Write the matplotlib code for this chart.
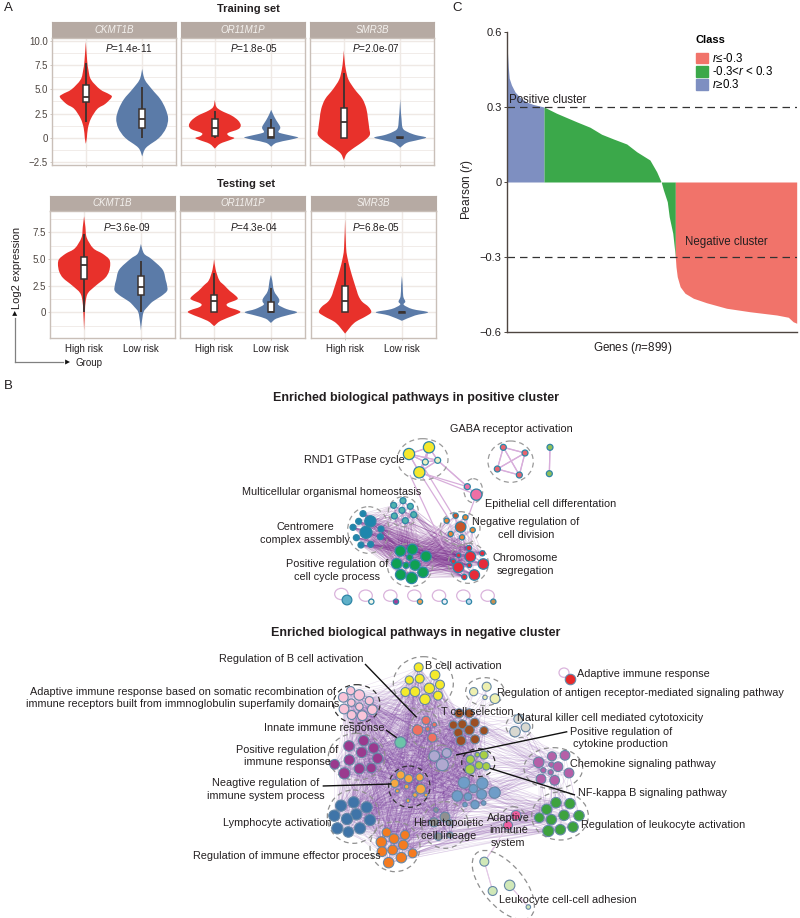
import numpy as np
import matplotlib
matplotlib.use("Agg")
import matplotlib.pyplot as plt
from matplotlib.path import Path
from matplotlib.patches import PathPatch, Ellipse, Patch
from matplotlib.collections import LineCollection

plt.rcParams['font.family'] = ['Liberation Sans', 'DejaVu Sans']
plt.rcParams['mathtext.fontset'] = 'custom'
plt.rcParams['mathtext.rm'] = 'Liberation Sans'
plt.rcParams['mathtext.it'] = 'Liberation Sans:italic'
plt.rcParams['mathtext.bf'] = 'Liberation Sans:bold'
plt.rcParams['axes.unicode_minus'] = True

W, H = 800, 918

# ---------- Panel A data: (y, relative half-width) density outlines and box stats ----------
genes = ['CKMT1B', 'OR11M1P', 'SMR3B']
groups = ['High risk', 'Low risk']
train_p = ['1.4e-11', '1.8e-05', '2.0e-07']
test_p = ['3.6e-09', '4.3e-04', '6.8e-05']

train_ck_hi_y = [9.9, 8, 7, 6, 5, 4.5, 4.2, 3.5, 3, 2, 1, 0, -0.6]
train_ck_hi_w = [0, .05, .1, .2, .55, .9, 1, .75, .45, .2, .08, .04, 0]
train_ck_lo_y = [7.1, 6, 5, 4, 3, 2, 1, 0, -1, -1.9]
train_ck_lo_w = [0, .1, .38, .7, .9, 1, .92, .65, .15, 0]
train_or_hi_y = [3.9, 3.2, 2.8, 2.3, 1.8, 1.3, .9, .5, .2, 0, -.2, -.6, -1.1]
train_or_hi_w = [0, .06, .25, .65, .9, 1, .9, .5, .55, .75, .6, .2, 0]
train_or_lo_y = [2.9, 2.4, 1.8, 1.3, 1, .6, .4, .1, 0, -.2, -.5, -.9]
train_or_lo_w = [0, .08, .2, .32, .35, .28, .5, 1, 1, .7, .2, 0]
train_sm_hi_y = [9, 8, 7, 6, 5, 4, 3, 2, 1, .3, -.3, -1, -1.6, -2.3]
train_sm_hi_w = [0, .03, .08, .18, .42, .72, .87, .93, .98, 1, .78, .4, .12, 0]
train_sm_lo_y = [4, 3, 2, 1, .6, .3, .05, -.2, -.5, -1]
train_sm_lo_w = [0, .02, .05, .1, .3, .6, 1, .7, .25, 0]

test_ck_hi_y = [9, 8, 7, 6, 5.5, 5, 4.5, 3.8, 3.2, 2.5, 1.8, 1, 0, -1.7]
test_ck_hi_w = [0, .05, .1, .35, .7, .95, 1, .95, .8, .45, .15, .06, .03, 0]
test_ck_lo_y = [6.4, 5.5, 5, 4, 3, 2.5, 2, 1.5, 1, .5, 0, -1, -1.7]
test_ck_lo_w = [0, .12, .4, .83, .95, 1, 1, .77, .45, .25, .1, .03, 0]
test_or_hi_y = [5, 4, 3, 2.5, 2, 1.5, 1.2, .8, .5, .2, 0, -.3, -.8, -1.3]
test_or_hi_w = [0, .06, .2, .4, .6, .85, .88, .5, .55, .9, 1, .75, .25, 0]
test_or_lo_y = [3.5, 3, 2, 1.3, 1, .7, .3, 0, -.3, -.6, -1]
test_or_lo_w = [0, .05, .12, .3, .32, .28, .6, 1, .6, .2, 0]
test_sm_hi_y = [8.7, 6, 5, 4, 3, 2, 1.5, 1, .5, 0, -.4, -1, -2]
test_sm_hi_w = [0, .04, .1, .2, .32, .45, .52, .65, .9, 1, .78, .35, 0]
test_sm_lo_y = [3.4, 2.5, 1.5, 1, .7, .3, 0, -.3, -.8]
test_sm_lo_w = [0, .03, .05, .13, .07, .4, 1, .5, 0]

# whisker low, q1, median, q3, whisker high
train_boxes = [[(1.6, 3.7, 4.2, 5.4, 7.7), (0, 1, 2, 3, 5.2)],
               [(0, .2, 1.05, 2, 2.8), (0, 0, .1, 1, 2)],
               [(0, 0, 1.6, 3.1, 6.7), (0, -.05, 0, .05, 0)]]
test_boxes = [[(0, 3.15, 4.4, 5.2, 7.3), (0, 1.6, 2.4, 3.4, 4.8)],
              [(0, 0, 1.05, 1.6, 3.7), (0, 0, .05, 1, 2.3)],
              [(0, 0, 1.05, 2.5, 4.6), (0, -.05, 0, .05, 0)]]
train_viol = [[(train_ck_hi_y, train_ck_hi_w), (train_ck_lo_y, train_ck_lo_w)],
              [(train_or_hi_y, train_or_hi_w), (train_or_lo_y, train_or_lo_w)],
              [(train_sm_hi_y, train_sm_hi_w), (train_sm_lo_y, train_sm_lo_w)]]
test_viol = [[(test_ck_hi_y, test_ck_hi_w), (test_ck_lo_y, test_ck_lo_w)],
             [(test_or_hi_y, test_or_hi_w), (test_or_lo_y, test_or_lo_w)],
             [(test_sm_hi_y, test_sm_hi_w), (test_sm_lo_y, test_sm_lo_w)]]

# ---------- Panel C data ----------
rank_pos = [0, 3, 6, 13, 24, 39, 60, 81, 114]
r_pos = [.53, .46, .415, .388, .36, .339, .32, .31, .30]
rank_mid = [114, 153, 215, 257, 293, 330, 371, 402, 443, 464, 478, 485, 497, 503, 514, 520, 522]
r_mid = [.30, .275, .241, .219, .191, .172, .152, .121, .088, .041, 0, -.032, -.079, -.139, -.205, -.275, -.305]
rank_neg = [522, 524, 528, 537, 552, 578, 619, 681, 754, 837, 873, 888, 899]
r_neg = [-.30, -.339, -.379, -.419, -.445, -.465, -.483, -.505, -.519, -.532, -.541, -.559, -.565]

# ---------- Panel B data: node (x, y, radius) and cluster ellipses, in network layout units ----------
P_YELLOW = [(537, 162, 15), (597, 142, 15), (568, 217, 15)]
P_YELLOW2 = [(586, 186, 8), (623, 181, 8)]
P_GABA = [(820, 142, 8), (885, 159, 8), (802, 207, 8), (868, 225, 8)]
P_PAIR = [(960, 142, 8), (958, 221, 8)]
P_EPI = [(712, 260, 8), (739, 284, 15)]
P_MULTI = [(491, 316, 8), (519, 302, 8), (516, 331, 8), (541, 319, 8), (493, 348, 8), (551, 344, 8), (526, 362, 8)]
P_CENT = [(421, 364, 15), (408, 397, 16), (399, 341, 8), (386, 364, 8), (369, 382, 8), (453, 387, 8),
          (379, 413, 8), (451, 410, 8), (393, 435, 8), (422, 433, 8)]
P_DIV1 = [(692, 381, 14), (677, 347, 7)]
P_DIV2 = [(650, 362, 7), (706, 352, 7), (728, 390, 7), (662, 402, 7), (696, 412, 7)]
P_CHR = [(721, 470, 14), (760, 492, 14), (685, 502, 14), (733, 525, 14), (717, 444, 7), (686, 466, 6),
         (757, 460, 7), (670, 484, 6), (718, 496, 6), (703, 531, 7)]
P_GRN = [(511, 453, 14), (547, 448, 14), (588, 469, 14), (500, 491, 14), (555, 495, 14), (512, 524, 14),
         (545, 534, 15), (579, 517, 14), (539, 472, 8), (528, 496, 8)]
P_SINGLE = [(351, 600, 13), (424, 605, 7), (498, 605, 7), (570, 605, 7), (644, 605, 7), (717, 605, 7), (790, 605, 7)]
P_SINGLE_C = ['#5fb0c8', '#f0f6ea', '#a04098', '#f0a050', '#f0f0f8', '#bcd8ee', '#c89050']
P_CLUSTERS = [(P_YELLOW, '#f5e72c'), (P_YELLOW2, '#e8f0c0'), (P_GABA, '#e8636f'), (P_PAIR, '#8fbf5a'),
              (P_EPI, '#ee6fa5'), (P_MULTI, '#4fb3ad'), (P_CENT, '#1f86ad'), (P_DIV1, '#c9552b'),
              (P_DIV2, '#e98433'), (P_CHR, '#e62b3a'), (P_GRN, '#0fa052')]
P_RINGS = [(578, 178, 76, 62), (842, 185, 68, 62), (730, 272, 28, 36), (415, 390, 62, 70),
           (520, 335, 45, 45), (690, 385, 60, 50), (715, 490, 60, 60), (540, 495, 68, 65)]
P_LABELS = [('GABA receptor activation', 660, 88, 'left'), ('RND1 GTPase cycle', 222, 181, 'left'),
            ('Multicellular organismal homeostasis', 35, 276, 'left'),
            ('Epithelial cell differentation', 765, 312, 'left'),
            ('Centromere\ncomplex assembly', 225, 401, 'center'),
            ('Negative regulation of\ncell division', 888, 385, 'center'),
            ('Positive regulation of\ncell cycle process', 320, 511, 'center'),
            ('Chromosome\nsegregation', 885, 493, 'center')]

N_PINK = [(-88, 152, 11), (-110, 172, 13), (-62, 165, 14), (-32, 182, 11), (-86, 188, 10), (-108, 207, 13),
          (-62, 200, 10), (-23, 209, 13), (-85, 225, 12), (-53, 227, 13)]
N_PURP = [(-93, 318, 14), (-49, 302, 14), (-19, 324, 14), (-55, 337, 14), (-7, 355, 14), (-92, 360, 14),
          (-136, 373, 13), (-62, 386, 14), (-26, 384, 13), (-107, 400, 15)]
N_LYMPH = [(-117, 497, 15), (-79, 487, 15), (-40, 502, 15), (-137, 527, 15), (-71, 523, 15), (-99, 537, 15),
           (-30, 540, 15), (-128, 565, 15), (-95, 576, 14), (-60, 565, 15)]
N_ORNG = [(20, 577, 12), (42, 596, 13), (75, 585, 12), (4, 606, 14), (70, 615, 13), (38, 630, 13),
          (98, 640, 12), (6, 635, 13), (64, 653, 14), (26, 668, 14)]
N_YELL = [(116, 82, 12), (165, 105, 13), (88, 120, 11), (119, 116, 12), (180, 134, 12), (76, 156, 12),
          (105, 155, 13), (148, 145, 14), (174, 167, 12), (135, 178, 14)]
N_ANTI = [(281, 155, 11), (320, 140, 12), (315, 172, 6), (345, 176, 13)]
N_BROWN = [(237, 220, 12), (268, 220, 12), (220, 255, 11), (247, 253, 12), (284, 248, 12), (235, 278, 12),
           (268, 270, 13), (312, 272, 11), (243, 302, 13), (285, 298, 12)]
N_NK = [(415, 237, 12), (405, 275, 14), (437, 262, 12)]
N_SALM = [(138, 241, 11), (113, 270, 14), (143, 267, 6), (163, 254, 6), (157, 293, 12)]
N_INNATE = [(61, 306, 15)]
N_LAV = [(163, 348, 14), (200, 339, 12), (187, 374, 16)]
N_LIME = [(271, 358, 11), (292, 344, 6), (312, 345, 11), (297, 376, 10), (270, 388, 13), (319, 379, 10)]
N_CHEMO = [(516, 349, 12), (555, 346, 13), (476, 367, 14), (514, 374, 7), (534, 380, 13), (490, 391, 7),
           (512, 397, 7), (567, 399, 13), (483, 417, 13), (524, 421, 13)]
N_LORG = [(62, 405, 11), (86, 416, 11), (119, 412, 10), (44, 430, 11), (80, 440, 6), (122, 447, 13),
          (52, 453, 5), (105, 465, 6), (138, 465, 5), (84, 482, 5)]
N_LBLUE = [(252, 428, 15), (307, 430, 15), (280, 446, 11), (344, 458, 15), (232, 468, 14), (264, 470, 10),
           (305, 463, 13), (285, 494, 11), (255, 494, 6), (311, 489, 6)]
N_GREY = [(168, 510, 6), (195, 531, 13), (162, 547, 12), (210, 548, 8), (175, 590, 10), (210, 585, 8)]
N_MAG = [(408, 526, 13), (384, 556, 12)]
N_GRN = [(528, 488, 14), (570, 491, 14), (500, 508, 14), (552, 526, 14), (478, 533, 13), (597, 527, 14),
         (514, 539, 14), (505, 573, 15), (541, 569, 14), (579, 561, 14)]
N_ADH = [(313, 665, 12), (389, 736, 14), (338, 753, 12), (445, 801, 6)]
N_RED = [(570, 116, 14)]
N_CLUSTERS = [(N_PINK, '#f9c4d8'), (N_PURP, '#9a3a8e'), (N_LYMPH, '#3f74a8'), (N_ORNG, '#f47b20'),
              (N_YELL, '#f4ea2a'), (N_ANTI, '#eef0b0'), (N_BROWN, '#9c4f23'), (N_NK, '#d8d8d0'),
              (N_SALM, '#ee7060'), (N_INNATE, '#6cc4a8'), (N_LAV, '#b0a8d0'), (N_LIME, '#a8cf45'),
              (N_CHEMO, '#b560a8'), (N_LORG, '#f6a840'), (N_LBLUE, '#6f9dc8'), (N_GREY, '#909090'),
              (N_MAG, '#ee5fa0'), (N_GRN, '#3ea23e'), (N_ADH, '#d0e8b8'), (N_RED, '#e82a2a')]
N_RINGS_GREY = [(-70, 350, 85, 70, 0), (-80, 530, 78, 80, 0), (45, 620, 75, 75, 0), (130, 130, 90, 80, 0),
                (315, 155, 58, 42, 0), (418, 258, 40, 35, 0), (135, 268, 45, 55, 0), (185, 355, 40, 40, 0),
                (520, 385, 88, 62, 0), (195, 555, 70, 70, 0), (400, 540, 38, 40, 0), (540, 528, 85, 72, 0),
                (370, 735, 125, 62, 50)]
N_RINGS_DARK = [(-70, 192, 70, 58, 0), (295, 368, 50, 42, 0), (88, 440, 62, 62, 0)]
N_LEADERS = [((-45, 72), (110, 232)), ((18, 270), (50, 293)), ((-172, 438), (35, 432)),
             ((562, 275), (228, 345)), ((585, 465), (330, 385))]
N_LABELS = [('Regulation of B cell activation', -482, 56, 'left'),
            ('Adaptive immune response based on somatic recombination of\nimmune receptors built from immnoglobulin superfamily domains', -591, 174, 'center'),
            ('Innate immune response', -349, 265, 'left'),
            ('Positive regulation of\nimmune response', -278, 348, 'center'),
            ('Neagtive regulation of\nimmune system process', -343, 449, 'center'),
            ('Lymphocyte activation', -470, 548, 'left'),
            ('Regulation of immune effector process', -562, 648, 'left'),
            ('B cell activation', 135, 78, 'left'), ('Adaptive immune response', 590, 102, 'left'),
            ('Regulation of antigen receptor-mediated signaling pathway', 352, 158, 'left'),
            ('T cell selection', 183, 216, 'left'),
            ('Natural killer cell mediated cytotoxicity', 412, 233, 'left'),
            ('Positive regulation of\ncytokine production', 722, 294, 'center'),
            ('Chemokine signaling pathway', 569, 373, 'left'),
            ('NF-kappa B signaling pathway', 593, 460, 'left'),
            ('Hematopoietic\ncell lineage', 205, 568, 'center'),
            ('Adaptive\nimmune\nsystem', 385, 571, 'center'),
            ('Regulation of leukocyte activation', 604, 555, 'left'),
            ('Leukocyte cell-cell adhesion', 357, 780, 'left')]

fig = plt.figure(figsize=(W / 100, H / 100), dpi=100, facecolor='white')


def add_px_axes(x0, y0, x1, y1, **kw):
    return fig.add_axes([x0 / W, 1 - y1 / H, (x1 - x0) / W, (y1 - y0) / H], **kw)


def ftext(x, y, s, **kw):
    kw.setdefault('ha', 'center')
    kw.setdefault('va', 'center')
    kw.setdefault('color', '#231f20')
    fig.text(x / W, 1 - y / H, s, **kw)


BORDER = '#c9bfb8'
STRIP = '#b6aaa3'
GRID = '#efe9e5'
MAXW = 0.46


def spline_side(pts):
    """Bezier segments (Catmull-Rom tangents) through the read outline points."""
    n = len(pts)
    verts, codes = [], []
    for i in range(n - 1):
        p0, p1 = pts[i], pts[i + 1]
        t0 = (pts[min(i + 1, n - 1)] - pts[max(i - 1, 0)]) / 6
        t1 = (pts[min(i + 2, n - 1)] - pts[i]) / 6
        verts += [p0 + t0, p1 - t1, p1]
        codes += [Path.CURVE4] * 3
    return verts, codes


def violin(ax, xc, y, w, color):
    y = np.asarray(y, float)
    w = np.asarray(w, float) * MAXW
    right = np.column_stack([xc + w, y])
    left = np.column_stack([xc - w, y])[::-1]
    vr, cr = spline_side(right)
    vl, cl = spline_side(left)
    verts = [right[0]] + vr + [left[0]] + vl
    codes = [Path.MOVETO] + cr + [Path.LINETO] + cl
    ax.add_patch(PathPatch(Path(verts, codes), facecolor=color, edgecolor='none', zorder=3))


def box(ax, xc, stats):
    lo, q1, med, q3, hi = stats
    dark = '#3a3230'
    ax.plot([xc, xc], [lo, hi], color=dark, lw=1.3, zorder=4, solid_capstyle='butt')
    ax.fill([xc - .05, xc + .05, xc + .05, xc - .05], [q1, q1, q3, q3], facecolor='white',
            edgecolor=dark, lw=1.1, zorder=5)
    ax.plot([xc - .05, xc + .05], [med, med], color=dark, lw=1.3, zorder=6, solid_capstyle='butt')


def violin_row(xranges, top, strip_bottom, bottom, ylim, ticks, minors, viols, boxes, pvals, ptx, pty, xlabels):
    for i, (x0, x1) in enumerate(xranges):
        st = add_px_axes(x0, top, x1, strip_bottom)
        st.set_facecolor(STRIP)
        st.set_xticks([]); st.set_yticks([])
        for s in st.spines.values():
            s.set_color(STRIP); s.set_linewidth(.8)
        st.text(.5, .5, genes[i], transform=st.transAxes, ha='center', va='center', color='#f4f1ee',
                style='italic', fontsize=7)
        ax = add_px_axes(x0, strip_bottom, x1, bottom)
        ax.set_xlim(.4, 2.6); ax.set_ylim(*ylim)
        ax.set_axisbelow(True)
        ax.set_yticks(ticks)
        ax.set_yticks(minors, minor=True)
        ax.set_xticks([1, 2])
        ax.grid(True, which='major', color=GRID, lw=1.0)
        ax.grid(True, which='minor', axis='y', color=GRID, lw=.6)
        ax.tick_params(which='minor', length=0)
        ax.tick_params(axis='both', which='major', length=1.5, width=.6, color=BORDER, labelsize=7,
                       labelcolor='#4d4540', pad=1.5)
        if i == 0:
            ax.set_yticklabels([('0' if t == 0 else f'{t:.1f}'.replace('-', '\u2212')) for t in ticks])
        else:
            ax.tick_params(axis='y', which='both', length=0, labelleft=False)
        if xlabels:
            ax.set_xticklabels(groups)
            ax.tick_params(axis='x', labelcolor='#231f20', pad=2.5)
        else:
            ax.set_xticklabels([])
        for s in ax.spines.values():
            s.set_color(BORDER); s.set_linewidth(1.0)
        for k, col in enumerate(['#e8312b', '#5b7ba8']):
            violin(ax, k + 1, viols[i][k][0], viols[i][k][1], col)
            box(ax, k + 1, boxes[i][k])
        ax.text(ptx[i], pty, f'$P$={pvals[i]}', ha='center', va='center', fontsize=7.2, color='#231f20', zorder=7)


violin_row([(52, 176), (181, 305), (310, 434)], 22, 38, 165, (-2.78, 10.28),
           [-2.5, 0, 2.5, 5, 7.5, 10], [-1.25, 1.25, 3.75, 6.25, 8.75],
           train_viol, train_boxes, train_p, [1.77, 1.695, 1.566], 9.25, False)
violin_row([(50, 175), (180, 305), (311, 436)], 196, 211, 338, (-2.41, 9.49),
           [0, 2.5, 5, 7.5], [-1.25, 1.25, 3.75, 6.25, 8.75],
           test_viol, test_boxes, test_p, [1.75, 1.70, 1.54], 8.02, True)

ftext(248, 9, 'Training set', fontweight='bold', fontsize=8)
ftext(246, 184, 'Testing set', fontweight='bold', fontsize=8)
ftext(8, 8, 'A', fontsize=9.5)
ftext(8, 386, 'B', fontsize=9.5)
ftext(457, 8, 'C', fontsize=9.5)
ftext(17, 268, 'Log2 expression', rotation=90, fontsize=8)
ftext(76, 363, 'Group', ha='left', fontsize=7)

# axis arrows for panel A
over = add_px_axes(0, 0, W, H)
over.set_xlim(0, W); over.set_ylim(H, 0); over.axis('off'); over.patch.set_alpha(0)
over.annotate('', xy=(14.7, 311), xytext=(14.7, 363),
              arrowprops=dict(arrowstyle='-|>,head_width=.18,head_length=.35', color='#111111', lw=0, shrinkA=0, shrinkB=0))
over.plot([14.7, 14.7], [318, 362], color='#808080', lw=.9)
over.plot([14.7, 63], [362, 362], color='#808080', lw=.9)
over.annotate('', xy=(70, 362), xytext=(60, 362),
              arrowprops=dict(arrowstyle='-|>,head_width=.18,head_length=.35', color='#111111', lw=0, shrinkA=0, shrinkB=0))

# ---------- Panel C ----------
axc = add_px_axes(507.3, 32, 796.7, 332)
axc.set_xlim(0, 899); axc.set_ylim(-.6, .6)
c_blue, c_green, c_red = '#7e8fc1', '#3ba84a', '#f1736a'
axc.fill_between(rank_pos, r_pos, 0, color=c_blue, lw=0)
axc.fill_between(rank_mid, r_mid, 0, color=c_green, lw=0)
axc.fill_between(rank_neg, r_neg, 0, color=c_red, lw=0)
axc.axhline(.3, color='#333333', lw=.9, dashes=(6, 4))
axc.axhline(-.3, color='#333333', lw=.9, dashes=(6, 4))
for s in ['top', 'right']:
    axc.spines[s].set_visible(False)
for s in ['left', 'bottom']:
    axc.spines[s].set_color('#4d4540'); axc.spines[s].set_linewidth(1.0)
axc.set_xticks([])
axc.set_yticks([-.6, -.3, 0, .3, .6])
axc.set_yticklabels(['\u22120.6', '\u22120.3', '0', '0.3', '0.6'])
axc.tick_params(axis='y', length=2, width=.7, color='#4d4540', labelsize=8, labelcolor='#231f20', pad=2)
ftext(467, 190, 'Pearson ($r$)', rotation=90, fontsize=8.6)
ftext(633, 348, 'Genes ($n$=899)', fontsize=8.4)
ftext(509, 100, 'Positive cluster', ha='left', fontsize=8.3)
ftext(685, 242, 'Negative cluster', ha='left', fontsize=8.3)
leg = axc.legend(handles=[Patch(color=c_red, label='$r$≤-0.3'), Patch(color=c_green, label='-0.3<$r$ < 0.3'),
                          Patch(color=c_blue, label='$r$≥0.3')],
                 title='Class', title_fontproperties={'weight': 'bold', 'size': 8}, fontsize=8.3,
                 frameon=False, loc='upper left', bbox_to_anchor=(696 / W, 1 - 35 / H), bbox_transform=fig.transFigure,
                 borderpad=0, borderaxespad=0, handlelength=1.05, handleheight=1.05, labelspacing=.02,
                 handletextpad=.35)
leg._legend_box.align = 'left'
leg._legend_box.sep = 5

# ---------- Panel B ----------
ftext(416, 398, 'Enriched biological pathways in positive cluster', fontweight='bold', fontsize=9)
ftext(416, 633, 'Enriched biological pathways in negative cluster', fontweight='bold', fontsize=9)


def px2s(r):
    return (2 * np.asarray(r) * 1.12 / 3 * .72) ** 2


def xy(nodes):
    return [(n[0], n[1]) for n in nodes]


def cross_edges(a, b, step=1):
    out = []
    for i, p in enumerate(xy(a)):
        for j, q in enumerate(xy(b)):
            if (i + j) % step == 0:
                out.append((p, q))
    return out


def nodes(ax, cl, fc, ec, lw=.8):
    a = np.array(cl)
    ax.scatter(a[:, 0], a[:, 1], s=px2s(a[:, 2]), c=fc, edgecolors=ec, linewidths=lw, zorder=5)


def labels(ax, items, size=7.8):
    for s, x, y, ha in items:
        ax.text(x, y, s, ha=ha, va='center', fontsize=size, color='#231f20', zorder=8, linespacing=1.3,
                multialignment='center')


# positive network
axp = add_px_axes(230, 400, 630, 610)
axp.set_xlim(0, 1200); axp.set_ylim(630, 0); axp.axis('off'); axp.patch.set_alpha(0)
core = [P_CENT, P_GRN, P_CHR]
strong = []
for i in range(len(core)):
    for j in range(i + 1, len(core)):
        strong += cross_edges(core[i], core[j])
strong += cross_edges(P_MULTI, P_CENT + P_GRN, 2) + cross_edges(P_MULTI, P_CHR, 2) + cross_edges(P_DIV1 + P_DIV2, P_CHR + P_GRN, 2)
axp.add_collection(LineCollection(strong, colors='#7b2d8e', linewidths=.5, alpha=.2, zorder=1))
weak = cross_edges(P_YELLOW + P_YELLOW2, P_YELLOW + P_YELLOW2) + cross_edges(P_GABA, P_GABA) + cross_edges(P_PAIR, P_PAIR)
weak += cross_edges([P_YELLOW[2], P_YELLOW2[1]], P_EPI) + [((568, 217), (660, 362)), ((540, 225), (640, 440)),
                                                            ((739, 284), (700, 390)), ((580, 200), (690, 381))]
axp.add_collection(LineCollection(weak, colors='#d8aedb', linewidths=.9, zorder=2))
for (cx, cy, rx, ry) in P_RINGS:
    axp.add_patch(Ellipse((cx, cy), 2 * rx, 2 * ry, fill=False, ec='#9a9a9a', lw=.9, ls=(0, (4, 3)), zorder=3))
for x0, y0, r in P_SINGLE:
    axp.add_patch(Ellipse((x0 - 17, y0 - 18), 40, 34, fill=False, ec='#dab4dc', lw=.9, zorder=2))
for cl, fc in P_CLUSTERS:
    nodes(axp, cl, fc, '#2f86a6', .9)
s_arr = np.array(P_SINGLE)
axp.scatter(s_arr[:, 0], s_arr[:, 1], s=px2s(s_arr[:, 2]), c=P_SINGLE_C, edgecolors='#2f86a6', linewidths=.9, zorder=5)
labels(axp, P_LABELS)

# negative network
axn = add_px_axes(0, 640, 800, 918)
axn.set_xlim(-1140, 1260); axn.set_ylim(834, 0); axn.axis('off'); axn.patch.set_alpha(0)
hub = [N_PINK, N_PURP, N_LYMPH, N_ORNG, N_YELL, N_BROWN, N_SALM, N_LAV, N_LIME, N_LORG, N_LBLUE, N_GREY,
       N_INNATE]
hazy = []
for i in range(len(hub)):
    for j in range(i + 1, len(hub)):
        hazy += cross_edges(hub[i], hub[j], 3)
axn.add_collection(LineCollection(hazy, colors='#7b3fa0', linewidths=.45, alpha=.15, zorder=1))
fan = cross_edges(N_GRN, N_ORNG, 2) + cross_edges(N_GRN, N_LYMPH + N_PURP + N_LBLUE + N_LAV, 5)
fan += cross_edges(N_MAG, N_ORNG + N_GRN, 3)
axn.add_collection(LineCollection(fan, colors='#7b3fa0', linewidths=.45, alpha=.17, zorder=1))
side = cross_edges(N_CHEMO, N_GRN + N_LBLUE + N_LIME + N_BROWN, 3) + cross_edges(N_NK, N_BROWN + N_CHEMO, 3)
side += cross_edges(N_ANTI, N_ANTI + N_BROWN, 3)
axn.add_collection(LineCollection(side, colors='#8a55ad', linewidths=.45, alpha=.2, zorder=1))
pale = cross_edges(N_ADH, N_ADH, 2) + [((313, 665), (384, 556)), ((313, 665), (345, 620))]
axn.add_collection(LineCollection(pale, colors='#e3c8e6', linewidths=.7, zorder=2))
for (cx, cy, rx, ry, ang) in N_RINGS_GREY:
    axn.add_patch(Ellipse((cx, cy), 2 * rx, 2 * ry, angle=ang, fill=False, ec='#8f8f8f', lw=.9, ls=(0, (4, 3)), zorder=3))
for (cx, cy, rx, ry, ang) in N_RINGS_DARK:
    axn.add_patch(Ellipse((cx, cy), 2 * rx, 2 * ry, angle=ang, fill=False, ec='#333333', lw=.9, ls=(0, (4, 3)), zorder=3))
axn.add_patch(Ellipse((552, 98), 30, 28, fill=False, ec='#dab4dc', lw=.9, zorder=2))
for cl, fc in N_CLUSTERS:
    nodes(axn, cl, fc, '#6688a6', .8)
axn.add_collection(LineCollection(N_LEADERS, colors='#111111', linewidths=1.0, zorder=7))
labels(axn, N_LABELS)

fig.savefig('out.png', dpi=100, facecolor='white')
